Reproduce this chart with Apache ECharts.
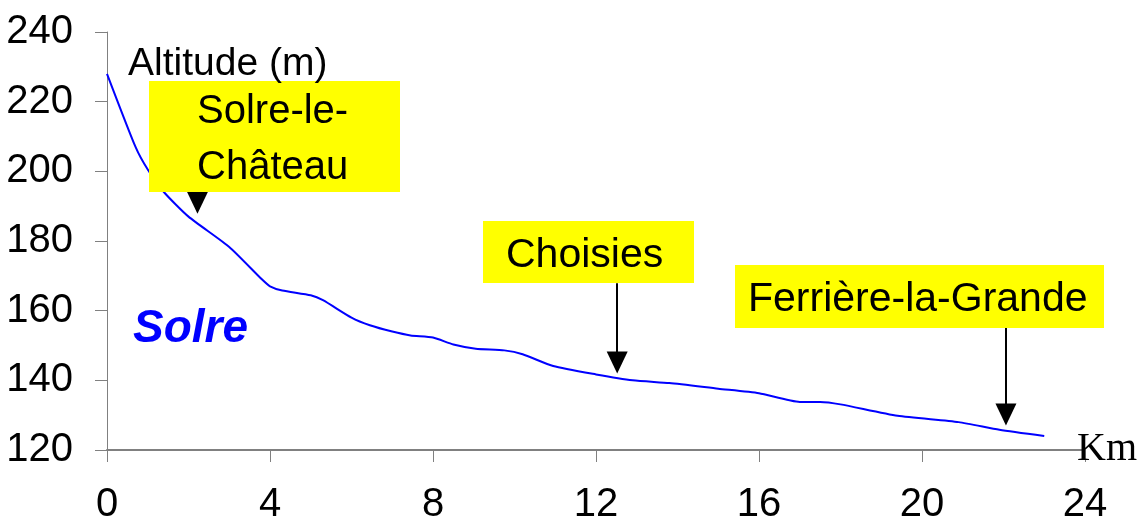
<!DOCTYPE html>
<html>
<head>
<meta charset="utf-8">
<script src="https://cdn.jsdelivr.net/npm/echarts@6/dist/echarts.min.js"></script>
<style>
  html, body { margin: 0; padding: 0; background: #fff; }
  #chart { width: 1138px; height: 519px; }
</style>
</head>
<body>
<div id="chart"></div>
<script>
// profil en long de la Solre
var km = [0, 0.7, 1.0, 1.4, 2.0, 3.0, 3.8, 4.0, 4.3, 5.0, 5.3, 6.0, 6.45, 7.0, 7.45, 8.0, 8.5, 9.05, 9.75, 10.2, 10.95, 12.0, 12.9, 13.8, 15.0, 16.0, 17.0, 17.5, 18.0, 19.4, 20.9, 21.9, 23.0];
var altitude = [228, 207, 200.5, 194, 187, 178.3, 169, 167, 165.8, 164.4, 163, 158, 155.8, 154, 152.9, 152.3, 150.3, 149.1, 148.6, 147.5, 144.1, 141.7, 140, 139.2, 137.6, 136.3, 133.8, 133.8, 133.1, 129.8, 128, 125.8, 124];

var towns = ['Solre-le-Château', 'Choisies', 'Ferrière-la-Grande'];
var townKm = [2.22, 12.52, 22.06];
var arrowFrom = [198.4, 167.9, 158.1];
var arrowTo = [191.0, 145.1, 130.2];

var xTicks = [0, 4, 8, 12, 16, 20, 24];
var yTicks = [120, 140, 160, 180, 200, 220, 240];

var chart = echarts.init(document.getElementById('chart'));

var font = 'Arial, "Liberation Sans", sans-serif';
var axisCol = '#808080';

var arrows = towns.map(function (t, i) {
  return [{ coord: [townKm[i], arrowFrom[i]] }, { coord: [townKm[i], arrowTo[i]] }];
});

function box(x, y, w, h) {
  return { type: 'rect', z: 100, shape: { x: x, y: y, width: w, height: h }, style: { fill: '#ffff00' } };
}
function txt(s, x, y, size, extra) {
  var st = { text: s, x: x, y: y, fill: '#000', font: size + 'px ' + font, verticalAlign: 'middle' };
  for (var k in extra) st[k] = extra[k];
  return { type: 'text', z: 150, style: st };
}

chart.setOption({
  animation: false,
  grid: { left: 107, right: 53, top: 32, bottom: 69, outerBoundsMode: 'none', containLabel: false },
  xAxis: {
    type: 'value',
    min: xTicks[0],
    max: xTicks[xTicks.length - 1],
    interval: 4,
    axisLine: { lineStyle: { color: axisCol, width: 2 } },
    axisTick: { length: 12, lineStyle: { color: axisCol, width: 1 } },
    axisLabel: { margin: 35, fontSize: 40, color: '#000', fontFamily: font },
    splitLine: { show: false }
  },
  yAxis: {
    type: 'value',
    min: yTicks[0],
    max: yTicks[yTicks.length - 1],
    interval: 20,
    axisLine: { show: true, lineStyle: { color: axisCol, width: 1 } },
    axisTick: { show: true, length: 12, lineStyle: { color: axisCol, width: 1 } },
    axisLabel: { margin: 34, fontSize: 40, color: '#000', fontFamily: font },
    splitLine: { show: false }
  },
  series: [
    {
      type: 'line',
      z: 2,
      data: km.map(function (k, i) { return [k, altitude[i]]; }),
      showSymbol: false,
      smooth: 0.2,
      lineStyle: { color: '#0000ff', width: 2 }
    },
    {
      type: 'line',
      z: 120,
      data: [],
      markLine: {
        silent: true,
        symbol: ['none', 'triangle'],
        symbolSize: [21, 22],
        label: { show: false },
        lineStyle: { color: '#000', width: 2, type: 'solid' },
        data: arrows
      }
    }
  ],
  graphic: [
    box(149, 81, 251, 111),
    box(483, 221, 211, 62),
    box(735, 265, 369, 63),
    txt('Altitude (m)', 128, 64, 39),
    txt('Solre-le-', 197, 112, 40),
    txt('Château', 197, 168, 40),
    txt(towns[1], 506, 256, 41),
    txt(towns[2], 748, 300, 41),
    txt('Solre', 133, 329, 46, { fill: '#0000ff', font: 'italic bold 46px ' + font }),
    txt('Km', 1077, 449, 40, { font: '40px "Times New Roman", "Liberation Serif", serif' })
  ]
});
</script>
</body>
</html>
